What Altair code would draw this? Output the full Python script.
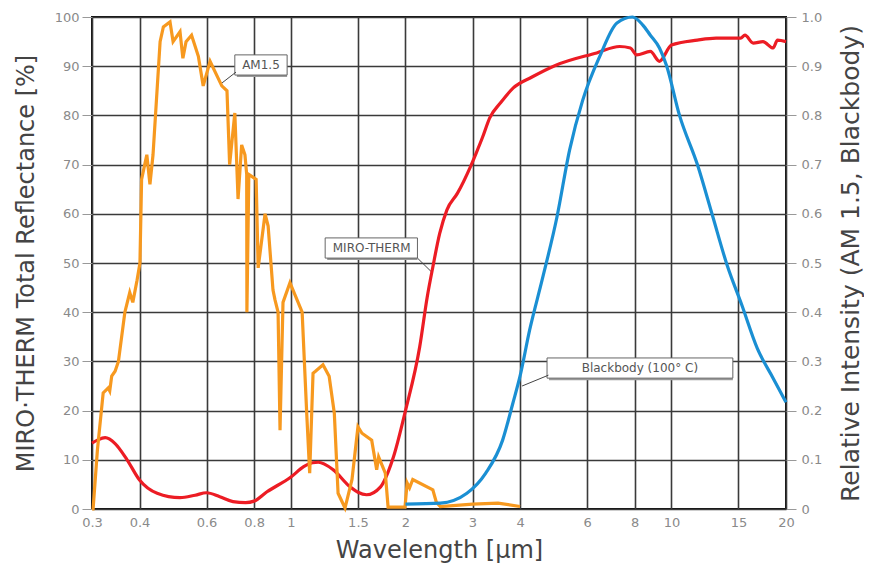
import altair as alt
import pandas as pd

# ---------------- data ----------------
# AM1.5 solar spectrum (relative intensity, right axis)
am_wl = [0.300, 0.302, 0.310, 0.321, 0.331, 0.334, 0.338, 0.345, 0.352, 0.366,
         0.377, 0.384, 0.394, 0.401, 0.405, 0.418, 0.426, 0.434, 0.453, 0.462,
         0.481, 0.490, 0.511, 0.520, 0.530, 0.548, 0.571, 0.588, 0.613, 0.658,
         0.679, 0.690, 0.712, 0.726, 0.742, 0.757, 0.765, 0.766, 0.775, 0.810,
         0.820, 0.855, 0.871, 0.897, 0.908, 0.925, 0.936, 0.953, 0.994, 1.070,
         1.100, 1.120, 1.143, 1.160, 1.214, 1.260, 1.300, 1.330, 1.387, 1.447,
         1.500, 1.537, 1.630, 1.680, 1.700, 1.770, 1.800, 1.994, 2.020, 2.050,
         2.090, 2.360, 2.410, 2.470, 3.000, 3.500, 4.000]
am_val = [0.000, 0.000, 0.120, 0.236, 0.246, 0.240, 0.270, 0.280, 0.300, 0.400,
          0.440, 0.420, 0.465, 0.500, 0.670, 0.720, 0.660, 0.720, 0.950, 0.980,
          0.990, 0.950, 0.970, 0.916, 0.950, 0.963, 0.920, 0.860, 0.910, 0.860,
          0.850, 0.700, 0.805, 0.630, 0.740, 0.720, 0.680, 0.400, 0.680, 0.670,
          0.490, 0.600, 0.575, 0.445, 0.425, 0.400, 0.160, 0.420, 0.460, 0.400,
          0.195, 0.073, 0.276, 0.280, 0.293, 0.270, 0.195, 0.032, 0.002, 0.060,
          0.167, 0.154, 0.140, 0.080, 0.106, 0.073, 0.004, 0.004, 0.053, 0.043,
          0.060, 0.039, 0.014, 0.005, 0.010, 0.012, 0.005]

# MIRO-THERM total reflectance [%] (left axis)
mt_wl = [0.300, 0.310, 0.325, 0.345, 0.371, 0.400, 0.445, 0.511, 0.560, 0.600,
         0.650, 0.704, 0.760, 0.800, 0.865, 1.000, 1.080, 1.140, 1.180, 1.290,
         1.430, 1.500, 1.580, 1.720, 1.800, 1.860, 2.000, 2.180, 2.280, 2.360,
         2.460, 2.570, 2.740, 2.960, 3.070, 3.190, 3.330, 3.550, 3.840, 4.300,
         4.970, 6.360, 7.310, 7.800, 8.100, 8.800, 9.300, 10.00, 11.70, 13.10,
         15.20, 15.60, 16.40, 17.40, 18.50, 19.00, 20.00]
mt_val = [13.4, 14.0, 14.5, 13.3, 10.0, 5.9, 3.2, 2.3, 2.8, 3.3,
          2.5, 1.5, 1.3, 1.6, 3.5, 6.5, 8.6, 9.4, 9.5, 8.0,
          4.5, 3.4, 2.9, 4.5, 7.5, 10.6, 20.0, 33.0, 43.0, 49.2,
          56.0, 60.8, 64.2, 69.5, 72.4, 75.6, 79.5, 82.5, 85.6, 87.8,
          90.2, 92.7, 94.0, 93.7, 92.3, 93.0, 91.0, 94.3, 95.3, 95.7,
          95.7, 96.3, 94.7, 95.0, 93.7, 95.3, 95.0]

# Blackbody (100 °C) relative intensity (right axis)
bb_wl = [2.00, 2.47, 2.90, 3.25, 3.60, 3.83, 4.00, 4.24, 4.57, 5.00,
         5.40, 5.84, 6.48, 7.19, 7.90, 8.40, 8.80, 9.30, 9.70, 10.5,
         11.7, 12.8, 14.0, 15.3, 16.8, 18.5, 20.0]
bb_val = [0.010, 0.012, 0.032, 0.073, 0.140, 0.215, 0.270, 0.364, 0.465, 0.593,
          0.730, 0.830, 0.920, 0.988, 1.000, 0.984, 0.963, 0.937, 0.902, 0.800,
          0.700, 0.598, 0.496, 0.415, 0.327, 0.266, 0.217]

x_ticks = [0.3, 0.4, 0.6, 0.8, 1, 1.5, 2, 3, 4, 6, 8, 10, 15, 20]
left_ticks = [0, 10, 20, 30, 40, 50, 60, 70, 80, 90, 100]
right_ticks = [0, 0.1, 0.2, 0.3, 0.4, 0.5, 0.6, 0.7, 0.8, 0.9, 1.0]

# annotation labels (box corners in data units, left-axis %)
lab_text = ["AM1.5", "MIRO-THERM", "Blackbody (100° C)"]
lab_x1 = [0.712, 1.23, 4.71]
lab_x2 = [0.977, 2.15, 14.5]
lab_y1 = [88.2, 51.0, 26.6]
lab_y2 = [92.3, 55.1, 30.7]
lab_tx = [0.834, 1.63, 8.26]
lab_ty = [90.2, 53.0, 28.6]
lead_x1 = [0.659, 2.15, 4.75]
lead_x2 = [0.717, 2.34, 4.05]
lead_y1 = [86.6, 51.0, 27.2]
lead_y2 = [88.8, 48.2, 25.0]

FONT = "DejaVu Sans"
AX_TITLE = "#444444"
AX_LABEL = "#8a8a8a"

am = pd.DataFrame({"wl": am_wl, "r": am_val, "s": "AM1.5"})
bb = pd.DataFrame({"wl": bb_wl, "r": bb_val, "s": "Blackbody"})
mt = pd.DataFrame({"wl": mt_wl, "v": mt_val})
labs = pd.DataFrame({"t": lab_text, "wl": lab_x1, "wl2": lab_x2, "v": lab_y1, "v2": lab_y2,
                     "tx": lab_tx, "ty": lab_ty})
leads = pd.DataFrame({"wl": lead_x1, "wl2": lead_x2, "v": lead_y1, "v2": lead_y2})

xscale = alt.Scale(type="log", domain=[0.3, 20], nice=False)
xaxis = alt.Axis(values=x_ticks, format="~g", title="Wavelength [µm]", grid=True,
                 ticks=False, labelPadding=7, labelFontSize=13, labelColor=AX_LABEL,
                 titleFontSize=24, titleColor=AX_TITLE, titleFontWeight="normal",
                 titlePadding=9, labelFlush=False)
X = alt.X("wl:Q", scale=xscale, axis=xaxis)

yscale_l = alt.Scale(domain=[0, 100], nice=False)
yaxis_l = alt.Axis(values=left_ticks, title="MIRO·THERM Total Reflectance [%]", grid=True,
                   tickSize=10, tickColor="#999999", labelPadding=3, labelFontSize=13,
                   labelColor=AX_LABEL, titleFontSize=24, titleColor=AX_TITLE,
                   titleFontWeight="normal", titlePadding=16)
Y = alt.Y("v:Q", scale=yscale_l, axis=yaxis_l)

yscale_r = alt.Scale(domain=[0, 1], nice=False)
yaxis_r = alt.Axis(orient="right", values=right_ticks, grid=False,
                   labelExpr="datum.value == 0 ? '0' : format(datum.value, '.1f')",
                   title="Relative Intensity (AM 1.5, Blackbody)",
                   titleAngle=270, titleBaseline="top",
                   tickSize=10, tickColor="#999999", labelPadding=5, labelFontSize=13,
                   labelColor=AX_LABEL, titleFontSize=25, titleColor=AX_TITLE,
                   titleFontWeight="normal", titlePadding=17)
YR = alt.Y("r:Q", scale=yscale_r, axis=yaxis_r)

red = alt.Chart(mt).mark_line(color="#EC1C24", strokeWidth=3.2, interpolate="monotone").encode(x=X, y=Y)

shadow = alt.Chart(labs).mark_rect(color="#9a9a9a", xOffset=2, yOffset=2).encode(
    x=X, x2="wl2:Q", y=Y, y2="v2:Q")
box = alt.Chart(labs).mark_rect(fill="white", stroke="#666666", strokeWidth=1).encode(
    x=X, x2="wl2:Q", y=Y, y2="v2:Q")
txt = alt.Chart(labs).mark_text(font=FONT, fontSize=12, color="#555555").encode(
    x=alt.X("tx:Q", scale=xscale, axis=xaxis), y=alt.Y("ty:Q", scale=yscale_l, axis=yaxis_l),
    text="t:N")
lead = alt.Chart(leads).mark_rule(color="#444444", strokeWidth=1).encode(
    x=X, x2="wl2:Q", y=Y, y2="v2:Q")

left = alt.layer(shadow, box, txt, lead, red)

orange = alt.Chart(am).mark_line(color="#F7991F", strokeWidth=3.2).encode(x=X, y=YR)
blue = alt.Chart(bb).mark_line(color="#1A8FD3", strokeWidth=3.2, interpolate="monotone").encode(x=X, y=YR)
right = alt.layer(orange, blue)

chart = alt.layer(left, right).resolve_scale(y="independent").properties(
    width=694, height=492,
    autosize=alt.AutoSizeParams(type="none"),
    padding={"left": 84, "top": 9, "right": 78, "bottom": 62},
).configure(font=FONT).configure_view(
    stroke="#111111", strokeWidth=2
).configure_axis(
    gridColor="#3a3a3a", gridWidth=1.6, gridOpacity=1, domain=False,
    labelFont=FONT, titleFont=FONT
)

chart.save("out.html", embed_options={"renderer": "svg", "actions": False})
